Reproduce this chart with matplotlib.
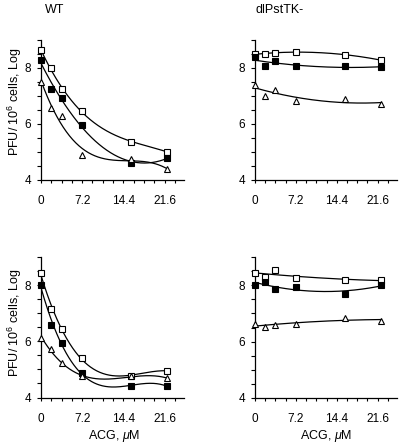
import numpy as np
import matplotlib
matplotlib.use("Agg")
import matplotlib.pyplot as plt
from matplotlib.ticker import MultipleLocator, FixedLocator

plt.rcParams['font.family'] = ['Liberation Sans', 'DejaVu Sans']
plt.rcParams['mathtext.fontset'] = 'custom'
plt.rcParams['mathtext.rm'] = 'Liberation Sans'
plt.rcParams['mathtext.it'] = 'Liberation Sans:italic'

# ACG concentrations (uM)
acg_left = [0, 1.8, 3.6, 7.2, 15.8, 22.0]
acg_right = [0, 1.8, 3.6, 7.2, 15.8, 22.2]

# Titles
col_titles = ["WT", "dlPstTK-"]

# Top row (log PFU / 10^6 cells)
wt_top_open_sq = [8.63, 7.98, 7.23, 6.45, 5.36, 5.00]
wt_top_filled_sq = [8.30, 7.23, 6.93, 5.95, 4.61, 4.77]
wt_top_tri = [7.50, 6.57, 6.27, 4.90, 4.74, 4.38]

tk_top_open_sq = [8.49, 8.51, 8.55, 8.57, 8.47, 8.28]
tk_top_filled_sq = [8.38, 8.06, 8.24, 8.07, 8.07, 8.02]
tk_top_tri = [7.40, 7.01, 7.22, 6.82, 6.88, 6.71]

# Bottom row
wt_bot_open_sq = [8.42, 7.16, 6.43, 5.41, 4.77, 4.96]
wt_bot_filled_sq = [8.00, 6.58, 5.95, 4.87, 4.41, 4.41]
wt_bot_tri = [6.13, 5.71, 5.23, 4.75, 4.75, 4.69]

tk_bot_open_sq = [8.44, 8.29, 8.54, 8.26, 8.20, 8.17]
tk_bot_filled_sq = [8.02, 8.11, 7.88, 7.94, 7.69, 8.02]
tk_bot_tri = [6.64, 6.52, 6.58, 6.62, 6.85, 6.74]

xtick_labels = ["0", "7.2", "14.4", "21.6"]
xtick_vals = [0, 7.2, 14.4, 21.6]
ytick_vals = [4, 6, 8]

fig = plt.figure(figsize=(4.04, 4.46), dpi=100)
W, H = 404, 446

def px_axes(left, top, right, bottom):
    return fig.add_axes([left / W, 1 - bottom / H, (right - left) / W, (bottom - top) / H])

axes = [
    px_axes(41, 40, 184, 179.7),
    px_axes(255, 40, 397, 179.7),
    px_axes(41, 257, 184, 397.5),
    px_axes(255, 257, 397, 398),
]

# (x values, series, fit degree)
panels = [
    (acg_left, [wt_top_open_sq, wt_top_filled_sq, wt_top_tri], 3),
    (acg_right, [tk_top_open_sq, tk_top_filled_sq, tk_top_tri], 2),
    (acg_left, [wt_bot_open_sq, wt_bot_filled_sq, wt_bot_tri], 3),
    (acg_right, [tk_bot_open_sq, tk_bot_filled_sq, tk_bot_tri], 2),
]

styles = [
    dict(marker='s', mfc='white', mec='black', ms=5, mew=0.8),
    dict(marker='s', mfc='black', mec='black', ms=5, mew=0.8),
    dict(marker='^', mfc='white', mec='black', ms=5, mew=0.8),
]

for ax, (xs, series, deg) in zip(axes, panels):
    x = np.array(xs, dtype=float)
    xx = np.linspace(x.min(), x.max(), 200)
    for ys, st in zip(series, styles):
        y = np.array(ys, dtype=float)
        coef = np.polyfit(x, y, deg)
        ax.plot(xx, np.polyval(coef, xx), color='black', lw=0.9, zorder=2)
        ax.plot(x, y, ls='none', zorder=3, clip_on=False, **st)
    ax.set_xlim(0, 25)
    ax.set_ylim(4, 9)
    for s in ['top', 'right']:
        ax.spines[s].set_visible(False)
    for s in ['left', 'bottom']:
        ax.spines[s].set_linewidth(0.9)
    ax.xaxis.set_major_locator(FixedLocator(xtick_vals))
    ax.set_xticklabels(xtick_labels)
    ax.xaxis.set_minor_locator(MultipleLocator(1.8))
    ax.yaxis.set_major_locator(FixedLocator(ytick_vals))
    ax.set_yticklabels([str(v) for v in ytick_vals])
    ax.yaxis.set_minor_locator(MultipleLocator(0.5))
    ax.tick_params(axis='x', which='both', direction='out', length=2.5, width=0.8, pad=8.5, labelsize=8.5)
    ax.tick_params(axis='y', which='both', direction='out', length=3, width=0.8, pad=4, labelsize=8.5)

fig.text(45 / W, 1 - 10 / H, col_titles[0], ha='left', va='center', fontsize=9)
fig.text(255 / W, 1 - 10 / H, col_titles[1], ha='left', va='center', fontsize=9)

ylab = "PFU/ 10$^{6}$ cells, Log"
fig.text(15 / W, 1 - 102 / H, ylab, rotation=90, ha='center', va='center', fontsize=9)
fig.text(15 / W, 1 - 323 / H, ylab, rotation=90, ha='center', va='center', fontsize=9)

xlab = "ACG, $\\mu$M"
fig.text(114 / W, 1 - 436 / H, xlab, ha='center', va='center', fontsize=9)
fig.text(326 / W, 1 - 436 / H, xlab, ha='center', va='center', fontsize=9)

fig.savefig("out.png", dpi=100)
